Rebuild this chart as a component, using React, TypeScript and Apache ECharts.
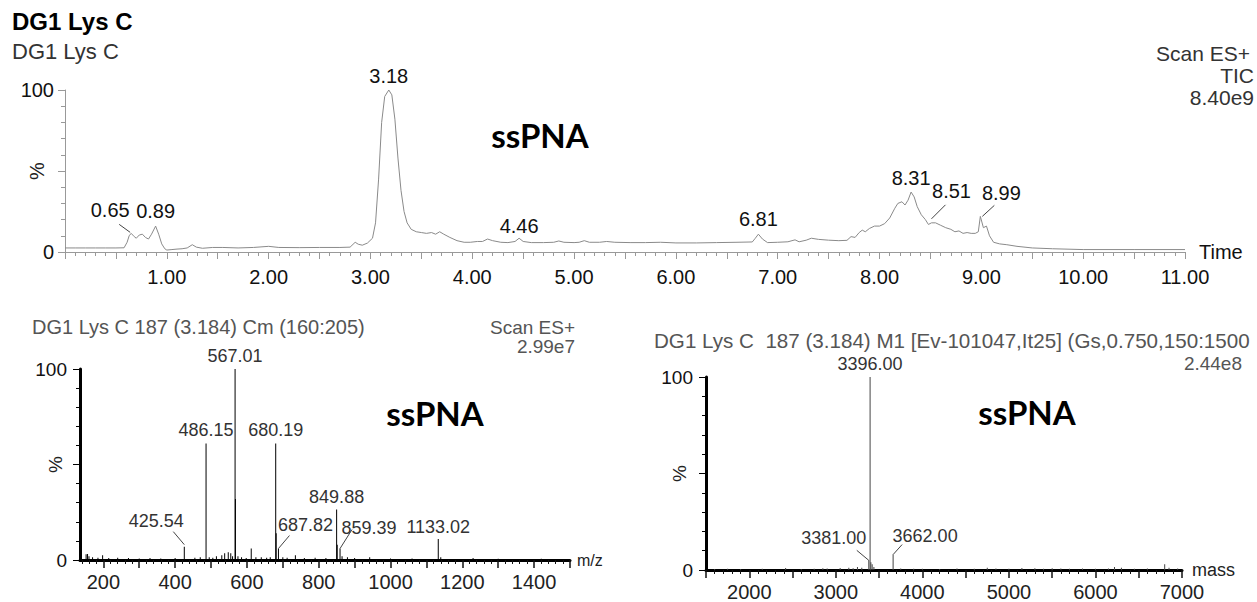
import React, { useEffect, useRef } from 'react';
import * as echarts from 'echarts';

// ---------- DATA ----------
// Total ion chromatogram: [time (min), relative intensity %]
const TIC_TRACE: number[][] = [
  [0.0, 2.5], [0.1, 2.5], [0.2, 2.5], [0.3, 2.5], [0.4, 2.5], [0.5, 2.5], [0.58, 2.6],
  [0.61, 6], [0.63, 10], [0.65, 11.5], [0.68, 9.5], [0.7, 8.5], [0.73, 10.5], [0.76, 11],
  [0.79, 9], [0.82, 8], [0.85, 11], [0.89, 16], [0.92, 11], [0.95, 5], [0.98, 2], [1.0, 1.2],
  [1.05, 1.5], [1.1, 1.8], [1.15, 2], [1.2, 2.5], [1.25, 4.5], [1.29, 3], [1.35, 2.3],
  [1.45, 2.8], [1.55, 2.8], [1.7, 2.5], [1.85, 2.8], [2.0, 3.5], [2.1, 2.8], [2.3, 2.7],
  [2.5, 2.8], [2.7, 2.8], [2.8, 3], [2.85, 6], [2.88, 4.8], [2.92, 4.2], [2.97, 5.5],
  [3.02, 8.5], [3.05, 18], [3.08, 45], [3.11, 80], [3.14, 96], [3.18, 100], [3.21, 97],
  [3.24, 82], [3.27, 58], [3.3, 38], [3.33, 25], [3.36, 18], [3.4, 14], [3.45, 12.5],
  [3.5, 12], [3.55, 11.5], [3.6, 12], [3.64, 11], [3.68, 12.5], [3.72, 11], [3.78, 9],
  [3.85, 7], [3.92, 6], [3.98, 6], [4.05, 6.5], [4.1, 6.5], [4.15, 8], [4.2, 7], [4.28, 6],
  [4.35, 5.8], [4.42, 6.5], [4.46, 8.5], [4.5, 6.5], [4.58, 5.8], [4.7, 5.8], [4.8, 6],
  [4.85, 6.8], [4.9, 6], [5.0, 5.8], [5.05, 6], [5.1, 7], [5.15, 6], [5.25, 6], [5.32, 6.5],
  [5.4, 6], [5.55, 5.8], [5.7, 5.8], [5.85, 6], [6.0, 5.6], [6.2, 5.6], [6.4, 5.8],
  [6.6, 6], [6.75, 6.2], [6.78, 8.5], [6.81, 11], [6.85, 8], [6.9, 5.8], [7.0, 6],
  [7.1, 6.3], [7.17, 7.5], [7.21, 6.3], [7.28, 7.3], [7.33, 8.5], [7.4, 7.8], [7.5, 7.3],
  [7.6, 7], [7.68, 7.2], [7.72, 9.5], [7.76, 9], [7.8, 12], [7.83, 13.5], [7.86, 12.5],
  [7.9, 14.5], [7.95, 16], [8.0, 16], [8.05, 17.5], [8.1, 21], [8.15, 27], [8.18, 30],
  [8.22, 31], [8.25, 29], [8.28, 32], [8.31, 37], [8.34, 34], [8.37, 28], [8.41, 23],
  [8.45, 20], [8.48, 17], [8.51, 18], [8.55, 18], [8.6, 16.5], [8.65, 15], [8.7, 14],
  [8.74, 12.5], [8.78, 13], [8.82, 11.5], [8.86, 12], [8.9, 11.5], [8.94, 11.5],
  [8.97, 12.5], [8.99, 22], [9.02, 15], [9.05, 16], [9.08, 10], [9.12, 6], [9.18, 5],
  [9.25, 4.5], [9.35, 3.5], [9.5, 2.5], [9.7, 2], [10.0, 1.5], [10.5, 1.5], [11.0, 1.5],
];
// Labelled chromatogram peaks [time, %]
const TIC_PEAKS: number[][] = [
  [3.18, 100], [0.89, 16], [4.46, 8.5], [6.81, 11], [8.31, 37], [0.65, 11.5], [8.51, 18], [8.99, 22],
];

// Combined ESI spectrum: [m/z, relative intensity %]
const MZ_SPECTRUM: number[][] = [
  [152, 3], [156, 3.2], [160, 2], [170, 1.5], [185, 1.2], [198, 2.5], [215, 1], [240, 1.2],
  [270, 1], [300, 0.8], [330, 1], [360, 0.8], [400, 1], [425.54, 7], [455, 1.2], [470, 1.5],
  [486.15, 61], [495, 1.5], [505, 1.2], [515, 2], [530, 2.5], [538, 3.5], [548, 4],
  [555, 3.5], [560, 2], [567.01, 100], [568, 32], [575, 2], [585, 1.5], [598, 1], [612, 6],
  [625, 1.5], [640, 1.5], [655, 1.2], [665, 1.5], [680.19, 61], [681.5, 14], [687.82, 6],
  [700, 1.5], [712, 1.2], [735, 2.5], [760, 1], [790, 1.2], [820, 1], [849.88, 26.5],
  [851.5, 8], [859.39, 6], [865, 2], [880, 1.5], [900, 1], [942, 1.5], [1000, 0.8],
  [1060, 0.8], [1133.02, 11], [1140, 1.5], [1230, 1], [1300, 0.7], [1420, 0.6],
];
const MZ_PEAKS: number[][] = [
  [567.01, 100], [486.15, 61], [680.19, 61], [849.88, 26.5], [1133.02, 11],
  [425.54, 7], [687.82, 6], [859.39, 6],
];

// Deconvoluted (MaxEnt) spectrum: [mass, relative intensity %]
const MASS_SPECTRUM: number[][] = [
  [1600, 0.5], [1750, 0.6], [1900, 0.5], [2150, 0.6], [2420, 1], [2600, 0.5], [2750, 0.7],
  [2850, 0.9], [2900, 0.8], [3050, 1], [3150, 1.2], [3200, 0.9], [3250, 1.5], [3300, 1.2],
  [3381, 5], [3396, 100], [3405, 4], [3420, 3], [3440, 1.5], [3662, 8], [3750, 0.8],
  [3900, 0.7], [4000, 0.6], [4200, 0.5], [4400, 0.8], [4600, 0.7], [4750, 1.2], [4850, 0.8],
  [5000, 0.7], [5150, 1], [5300, 0.9], [5400, 0.7], [5500, 0.9], [5600, 0.8], [5700, 0.6],
  [5850, 0.8], [6000, 0.7], [6150, 0.8], [6220, 1.5], [6300, 1.2], [6450, 0.7], [6600, 0.8],
  [6800, 3], [6850, 1.2], [6950, 0.8],
];
const MASS_PEAKS: number[][] = [[3396.0, 100], [3381.0, 5], [3662.0, 8]];

// Tick labels
const TIME_LABELS = [1, 2, 3, 4, 5, 6, 7, 8, 9, 10, 11];
const PCT_LABELS = [0, 100];
const MZ_LABELS = [200, 400, 600, 800, 1000, 1200, 1400];
const MZ_MAJOR_TICKS = [200, 300, 400, 500, 600, 700, 800, 900, 1000, 1100, 1200, 1300, 1400, 1500];
const MASS_LABELS = [2000, 3000, 4000, 5000, 6000, 7000];

// ---------- STYLE ----------
const FONT = '"Liberation Sans", Arial, Helvetica, sans-serif';
// label placement relative to the peak (pixels): [textDx, textDy, line x1, y1, x2, y2] (line optional)
const TOP_LABEL_POS: number[][] = [
  [0, -14], [0, -15], [0, -12], [0, -15], [0, -14],
  [-21, -23, -12, -9, -1, -1], [20, -32, 14, -18, 0, -4], [21, -23, 14, -11, 2, 0],
];
const MZ_LABEL_POS: number[][] = [
  [0, -13], [0, -13], [0, -13], [0, -12], [0, -12],
  [-28, -26, -11, -15, 0, -2], [27, -24, 11, -13, 0, 0], [29, -21, 12, -19, 0, 0],
];
const MASS_LABEL_POS: number[][] = [
  [0, -13], [-35, -22, -12, -10, 0, 0], [32, -19, 9, -10, 0, 0],
];

function peakLabelSeries(xIdx: number, yIdx: number, data: number[][], pos: number[][], fontSize: number, color: string): any {
  return {
    type: 'custom',
    xAxisIndex: xIdx,
    yAxisIndex: yIdx,
    data,
    silent: true,
    clip: false,
    z: 5,
    renderItem: (params: any, api: any) => {
      const p = pos[params.dataIndex];
      const pt = api.coord([api.value(0), api.value(1)]);
      const children: any[] = [
        {
          type: 'text',
          x: pt[0] + p[0],
          y: pt[1] + p[1],
          style: {
            text: Number(api.value(0)).toFixed(2),
            font: `${fontSize}px ${FONT}`,
            fill: color,
            align: 'center', textAlign: 'center',
            verticalAlign: 'middle', textVerticalAlign: 'middle',
          },
        },
      ];
      if (p.length > 2) {
        children.push({
          type: 'line',
          shape: { x1: pt[0] + p[2], y1: pt[1] + p[3], x2: pt[0] + p[4], y2: pt[1] + p[5] },
          style: { stroke: '#444', lineWidth: 1 },
        });
      }
      return { type: 'group', children };
    },
  };
}

function pctAxis(gridIndex: number, lineColor: string, lineWidth: number, fontSize: number, nameGap: number, margin: number): any {
  return {
    type: 'value', gridIndex, min: 0, max: 100, interval: 50,
    axisLine: { show: true, lineStyle: { color: lineColor, width: lineWidth } },
    axisTick: { show: true, length: 7, lineStyle: { color: lineColor, width: 1 } },
    minorTick: { show: true, splitNumber: 5, length: 4, lineStyle: { color: lineColor, width: 1 } },
    splitLine: { show: false },
    minorSplitLine: { show: false },
    axisLabel: {
      fontSize, fontFamily: FONT, color: '#111', margin,
      formatter: (v: number) => (PCT_LABELS.includes(v) ? String(v) : ''),
    },
    name: '%', nameLocation: 'middle', nameRotate: 90, nameGap, nameMoveOverlap: false,
    nameTextStyle: { fontSize, fontFamily: FONT, color: '#222' },
  };
}

export default function App() {
  const ref = useRef<HTMLDivElement>(null);

  useEffect(() => {
    if (!ref.current) return;
    const chart = echarts.init(ref.current, null, { renderer: 'svg' });

    const mzMinor: number[] = [];
    MZ_MAJOR_TICKS.forEach((t) => { for (let k = 1; k < 5; k++) mzMinor.push(t - k * 20); });

    const option: any = {
      animation: false,
      backgroundColor: '#ffffff',
      grid: [
        { left: 65, top: 90, width: 1120, height: 162 },
        { left: 80, top: 369, width: 490, height: 191 },
        { left: 706, top: 377, width: 476, height: 195 },
      ],
      xAxis: [
        {
          type: 'value', gridIndex: 0, min: 0, max: 11, interval: 0.5,
          axisLine: { lineStyle: { color: '#999', width: 1 } },
          axisTick: { length: 7, lineStyle: { color: '#999' } },
          minorTick: { show: true, splitNumber: 5, length: 4, lineStyle: { color: '#999' } },
          splitLine: { show: false },
          axisLabel: {
            fontSize: 20, fontFamily: FONT, color: '#111', margin: 15,
            formatter: (v: number) => (TIME_LABELS.includes(v) ? v.toFixed(2) : ''),
          },
          name: 'Time', nameLocation: 'end', nameGap: 14,
          nameTextStyle: { fontSize: 20, fontFamily: FONT, color: '#111' },
        },
        {
          type: 'value', gridIndex: 1, min: 135, max: 1500,
          axisLine: { lineStyle: { color: '#000', width: 3 } },
          axisTick: { customValues: MZ_MAJOR_TICKS, length: 8, lineStyle: { color: '#111', width: 1.5 } },
          splitLine: { show: false },
          axisLabel: {
            customValues: MZ_LABELS, fontSize: 20, fontFamily: FONT, color: '#222', margin: 12,
            formatter: (v: number) => String(v),
          },
          name: 'm/z', nameLocation: 'end', nameGap: 7,
          nameTextStyle: { fontSize: 16, fontFamily: FONT, color: '#222' },
        },
        {
          type: 'value', gridIndex: 2, min: 1500, max: 7000, interval: 500,
          axisLine: { lineStyle: { color: '#000', width: 3 } },
          axisTick: { length: 8, lineStyle: { color: '#111', width: 1.5 } },
          minorTick: { show: true, splitNumber: 5, length: 4, lineStyle: { color: '#111', width: 1 } },
          splitLine: { show: false },
          axisLabel: {
            fontSize: 20, fontFamily: FONT, color: '#222', margin: 12,
            formatter: (v: number) => (MASS_LABELS.includes(v) ? String(v) : ''),
          },
          name: 'mass', nameLocation: 'end', nameGap: 10,
          nameTextStyle: { fontSize: 18, fontFamily: FONT, color: '#222' },
        },
        {
          type: 'value', gridIndex: 1, min: 135, max: 1500, position: 'bottom',
          axisLine: { show: false },
          axisTick: { customValues: mzMinor, length: 4, lineStyle: { color: '#111', width: 1 } },
          axisLabel: { show: false },
          splitLine: { show: false },
        },
      ],
      yAxis: [
        pctAxis(0, '#999', 1, 20, 18, 11),
        pctAxis(1, '#000', 3, 19, 15, 13),
        pctAxis(2, '#000', 3, 19, 17, 13),
      ],
      series: [
        {
          type: 'line', xAxisIndex: 0, yAxisIndex: 0, data: TIC_TRACE,
          showSymbol: false, symbol: 'none', silent: true,
          lineStyle: { color: '#8a8a8a', width: 1 },
        },
        peakLabelSeries(0, 0, TIC_PEAKS, TOP_LABEL_POS, 20, '#111'),
        {
          type: 'bar', xAxisIndex: 1, yAxisIndex: 1, data: MZ_SPECTRUM, barWidth: 1,
          silent: true, itemStyle: { color: '#000' },
        },
        peakLabelSeries(1, 1, MZ_PEAKS, MZ_LABEL_POS, 18, '#333'),
        {
          type: 'bar', xAxisIndex: 2, yAxisIndex: 2, data: MASS_SPECTRUM, barWidth: 1,
          silent: true, itemStyle: { color: '#444' },
        },
        peakLabelSeries(2, 2, MASS_PEAKS, MASS_LABEL_POS, 18, '#333'),
      ],
      graphic: [
        { type: 'text', x: 12, y: 21, style: { text: 'DG1 Lys C', font: `bold 24px ${FONT}`, fill: '#000', verticalAlign: 'middle', textVerticalAlign: 'middle' } },
        { type: 'text', x: 12, y: 51, style: { text: 'DG1 Lys C', font: `22px ${FONT}`, fill: '#333', verticalAlign: 'middle', textVerticalAlign: 'middle' } },
        { type: 'text', x: 1250, y: 53, style: { text: 'Scan ES+', font: `21px ${FONT}`, fill: '#333', align: 'right', textAlign: 'right', verticalAlign: 'middle', textVerticalAlign: 'middle' } },
        { type: 'text', x: 1254, y: 75, style: { text: 'TIC', font: `21px ${FONT}`, fill: '#333', align: 'right', textAlign: 'right', verticalAlign: 'middle', textVerticalAlign: 'middle' } },
        { type: 'text', x: 1254, y: 97, style: { text: '8.40e9', font: `21px ${FONT}`, fill: '#333', align: 'right', textAlign: 'right', verticalAlign: 'middle', textVerticalAlign: 'middle' } },
        { type: 'text', x: 540, y: 135, style: { text: 'ssPNA', font: `bold 33px Lato, "Open Sans", sans-serif`, fill: '#000', align: 'center', textAlign: 'center', verticalAlign: 'middle', textVerticalAlign: 'middle' } },

        { type: 'text', x: 32, y: 327, style: { text: 'DG1 Lys C 187 (3.184) Cm (160:205)', font: `20px ${FONT}`, fill: '#555', verticalAlign: 'middle', textVerticalAlign: 'middle' } },
        { type: 'text', x: 575, y: 327, style: { text: 'Scan ES+', font: `19px ${FONT}`, fill: '#555', align: 'right', textAlign: 'right', verticalAlign: 'middle', textVerticalAlign: 'middle' } },
        { type: 'text', x: 575, y: 346, style: { text: '2.99e7', font: `19px ${FONT}`, fill: '#555', align: 'right', textAlign: 'right', verticalAlign: 'middle', textVerticalAlign: 'middle' } },
        { type: 'text', x: 435, y: 413, style: { text: 'ssPNA', font: `bold 33px Lato, "Open Sans", sans-serif`, fill: '#000', align: 'center', textAlign: 'center', verticalAlign: 'middle', textVerticalAlign: 'middle' } },

        { type: 'text', x: 654, y: 340, style: { text: 'DG1 Lys C  187 (3.184) M1 [Ev-101047,It25] (Gs,0.750,150:1500', font: `20.6px ${FONT}`, fill: '#555', verticalAlign: 'middle', textVerticalAlign: 'middle' } },
        { type: 'text', x: 1242, y: 363, style: { text: '2.44e8', font: `19px ${FONT}`, fill: '#555', align: 'right', textAlign: 'right', verticalAlign: 'middle', textVerticalAlign: 'middle' } },
        { type: 'text', x: 1027, y: 412, style: { text: 'ssPNA', font: `bold 33px Lato, "Open Sans", sans-serif`, fill: '#000', align: 'center', textAlign: 'center', verticalAlign: 'middle', textVerticalAlign: 'middle' } },
      ],
    };

    chart.setOption(option);
    return () => chart.dispose();
  }, []);

  return (
    <div
      ref={ref}
      style={{ position: 'absolute', left: 0, top: 0, width: 1257, height: 602, background: '#fff' }}
    />
  );
}
